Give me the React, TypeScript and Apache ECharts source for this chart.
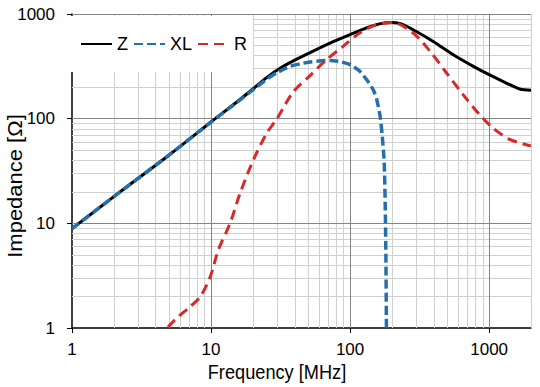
import React, { useEffect, useRef } from "react";
import * as echarts from "echarts";

// Frequency [MHz] / impedance [Ω]
const zFreq = [1, 2, 5, 10, 15, 20, 23, 26.5, 30, 36.9, 51.5, 71.7, 100, 139, 163, 195, 230, 284, 396, 552, 770, 1000, 1330, 1660, 2000];
const zImp = [8.9, 18, 45, 93, 141, 192, 225, 260, 292, 343, 428, 528, 636, 758, 805, 830, 808, 708, 547, 408, 316, 263, 219, 192, 187];

const xlFreq = [1, 2, 5, 10, 15, 20, 23, 26.5, 30, 36.9, 44, 51.5, 60, 71.7, 85, 100, 117, 135, 147, 155, 164, 170, 176, 179, 181, 182.5];
const xlImp = [8.9, 18, 45, 93, 140, 188, 218, 250, 277, 316, 335, 348, 356, 360, 350, 328, 285, 225, 188, 155, 108, 70, 38, 14, 4.5, 1];

const rFreq = [4.9, 5.83, 6.88, 8.38, 9.88, 11.3, 13.7, 16.2, 20.1, 25.2, 29.8, 39, 51.5, 67.7, 89, 117, 155, 203, 284, 376, 494, 651, 855, 1065, 1420, 2000];
const rImp = [1.02, 1.29, 1.55, 2.0, 3.1, 5.6, 10, 19.5, 40, 73, 100, 180, 258, 366, 490, 658, 790, 830, 658, 440, 273, 169, 109, 81.5, 63, 55];

const xTicks = [1, 10, 100, 1000];
const yTicks = [1, 10, 100, 1000];
const xMajor = [10, 100, 1000];
const yMajor = [10, 100, 1000];
const xMinor = [2, 3, 4, 5, 6, 7, 8, 9, 20, 30, 40, 50, 60, 70, 80, 90, 200, 300, 400, 500, 600, 700, 800, 900, 2000];
const yMinor = [2, 3, 4, 5, 6, 7, 8, 9, 20, 30, 40, 50, 60, 70, 80, 90, 200, 300, 400, 500, 600, 700, 800, 900];

const seriesNames = ["Z", "XL", "R"];

export default function App() {
  const ref = useRef<HTMLDivElement>(null);
  useEffect(() => {
    const chart = echarts.init(ref.current!, null, { renderer: "svg" });
    const font = "'Liberation Sans', Arial, sans-serif";
    const zip = (xs: number[], ys: number[]) => xs.map((x, i) => [x, ys[i]]);
    const gl = (axis: string, v: number, color: string) => ({
      [axis]: v,
      lineStyle: { color, width: 1, type: "solid" },
    });
    const minorColor = "#d0d0d0";
    const majorColor = "#858585";
    const markData = [
      ...xMinor.map((v) => gl("xAxis", v, minorColor)),
      ...yMinor.map((v) => gl("yAxis", v, minorColor)),
      ...xMajor.map((v) => gl("xAxis", v, majorColor)),
      ...yMajor.map((v) => gl("yAxis", v, majorColor)),
    ];
    const fmt = (v: number) => {
      const r = Math.round(v);
      return xTicks.includes(r) ? String(r) : "";
    };
    chart.setOption({
      animation: false,
      textStyle: { fontFamily: font },
      grid: { left: 72, right: 9, top: 14, bottom: 59 },
      xAxis: {
        type: "log",
        logBase: 10,
        min: 1,
        max: 2000,
        axisLine: { onZero: false, lineStyle: { color: "#000", width: 1.5 } },
        axisTick: { show: true, length: 5, lineStyle: { color: "#000" }, customValues: xTicks },
        axisLabel: { customValues: xTicks, formatter: fmt, fontSize: 17, color: "#000", margin: 13, fontFamily: font },
        splitLine: { show: false },
      },
      yAxis: {
        type: "log",
        logBase: 10,
        min: 1,
        max: 1000,
        axisLine: { show: true, onZero: false, lineStyle: { color: "#000", width: 1.5 } },
        axisTick: { show: true, length: 5, lineStyle: { color: "#000" }, customValues: yTicks },
        axisLabel: { customValues: yTicks, formatter: fmt, fontSize: 17, color: "#000", margin: 17, fontFamily: font },
        splitLine: { show: false },
      },
      legend: {
        data: seriesNames,
        left: 70,
        top: 16,
        itemWidth: 31,
        itemHeight: 14,
        itemGap: 5,
        padding: [19, 6, 19, 10],
        backgroundColor: "#fff",
        selectedMode: false,
        itemStyle: { opacity: 0 },
        textStyle: { fontSize: 18, color: "#000", fontFamily: font },
      },
      graphic: [
        {
          type: "text",
          x: 277,
          y: 372,
          scaleX: 0.91,
          style: {
            text: "Frequency [MHz]",
            font: `20px ${font}`,
            fill: "#000",
            textAlign: "center",
            textVerticalAlign: "middle",
          },
        },
        {
          type: "text",
          x: 15,
          y: 186,
          rotation: Math.PI / 2,
          scaleY: 0.91,
          style: {
            text: "Impedance [Ω]",
            font: `22px ${font}`,
            fill: "#000",
            textAlign: "center",
            textVerticalAlign: "middle",
          },
        },
      ],
      series: [
        {
          type: "line",
          name: "_grid",
          data: [],
          silent: true,
          markLine: {
            silent: true,
            symbol: "none",
            z: 1,
            animation: false,
            label: { show: false },
            emphasis: { disabled: true },
            data: markData,
          },
        },
        {
          type: "line",
          name: "Z",
          data: zip(zFreq, zImp),
          symbol: "none",
          smooth: 0.3,
          lineStyle: { color: "#000", width: 3 },
          itemStyle: { color: "#000" },
          z: 2,
        },
        {
          type: "line",
          name: "XL",
          data: zip(xlFreq, xlImp),
          symbol: "none",
          smooth: 0.2,
          lineStyle: { color: "#2370ad", width: 3.5, type: [9, 4] },
          itemStyle: { color: "#2370ad" },
          z: 3,
        },
        {
          type: "line",
          name: "R",
          data: zip(rFreq, rImp),
          symbol: "none",
          smooth: 0.3,
          lineStyle: { color: "#d42a2a", width: 3, type: [10, 6] },
          itemStyle: { color: "#d42a2a" },
          z: 4,
        },
      ],
    });
    return () => chart.dispose();
  }, []);
  return (
    <div
      ref={ref}
      style={{ position: "absolute", left: 0, top: 0, width: 540, height: 387, background: "#fff" }}
    />
  );
}
